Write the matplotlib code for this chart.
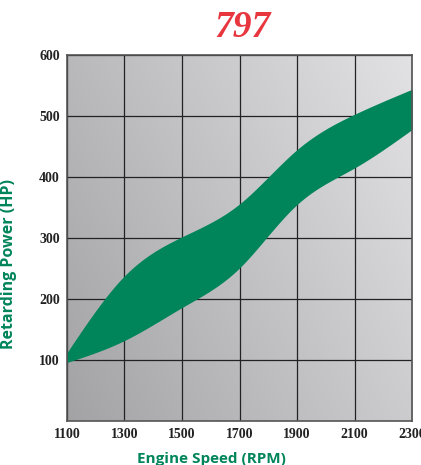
import numpy as np
import matplotlib
matplotlib.use("Agg")
import matplotlib.pyplot as plt

# ── Données ──────────────────────────────────────────────────────────────────
rpm       = [1100, 1300, 1500, 1700, 1800, 1900, 2100, 2300]
hp_upper  = [112, 238, 302, 356, 400, 445, 503, 544]
hp_lower  = [96, 132, 186, 251, 304, 355, 415, 478]

x_ticks   = [1100, 1300, 1500, 1700, 1900, 2100, 2300]
y_ticks   = [100, 200, 300, 400, 500, 600]

GREEN = "#00845a"
RED   = "#e8363f"


def spline(x, y, xs):
    """Spline cubique naturelle (numpy seul)."""
    x = np.asarray(x, float)
    y = np.asarray(y, float)
    n = len(x)
    h = np.diff(x)
    A = np.zeros((n, n))
    b = np.zeros(n)
    A[0, 0] = A[-1, -1] = 1
    for i in range(1, n - 1):
        A[i, i - 1] = h[i - 1]
        A[i, i] = 2 * (h[i - 1] + h[i])
        A[i, i + 1] = h[i]
        b[i] = 3 * ((y[i + 1] - y[i]) / h[i] - (y[i] - y[i - 1]) / h[i - 1])
    c = np.linalg.solve(A, b)
    idx = np.clip(np.searchsorted(x, xs) - 1, 0, n - 2)
    dx = xs - x[idx]
    hi = h[idx]
    bb = (y[idx + 1] - y[idx]) / hi - hi * (2 * c[idx] + c[idx + 1]) / 3
    d = (c[idx + 1] - c[idx]) / (3 * hi)
    return y[idx] + bb * dx + c[idx] * dx ** 2 + d * dx ** 3


# ── Figure ───────────────────────────────────────────────────────────────────
fig = plt.figure(figsize=(4.21, 4.65), dpi=100)
ax = fig.add_axes([0.159, 0.0946, 0.82, 0.787])

# fond dégradé gris (sombre en bas à gauche, clair en haut à droite)
gx, gy = np.meshgrid(np.linspace(0, 1, 200), np.linspace(0, 1, 200))
grad = 0.65 * gx + 0.35 * gy
ax.imshow(grad, extent=[1100, 2300, 0, 600], origin="lower", aspect="auto",
          cmap=matplotlib.colors.LinearSegmentedColormap.from_list("g", ["#a3a3a6", "#e2e2e5"]),
          zorder=0)

# bande verte
xs = np.linspace(1100, 2300, 600)
up = spline(rpm, hp_upper, xs)
lo = spline(rpm, hp_lower, xs)
ax.fill_between(xs, lo, up, color=GREEN, lw=0, zorder=3)

ax.set_xlim(1100, 2300)
ax.set_ylim(0, 600)
ax.set_xticks(x_ticks)
ax.set_yticks(y_ticks)
ax.grid(True, color="#222222", lw=0.9, zorder=2)
ax.set_axisbelow(False)
ax.tick_params(length=0, pad=5)
for lab in ax.get_xticklabels() + ax.get_yticklabels():
    lab.set_family("Liberation Serif")
    lab.set_fontweight("bold")
    lab.set_fontsize(10)
    lab.set_color("#222222")
for s in ax.spines.values():
    s.set_color("#555555")
    s.set_linewidth(1.2)
    s.set_zorder(4)

ax.set_xlabel("Engine Speed (RPM)", family="Open Sans", fontweight="bold",
              fontsize=11, color=GREEN, labelpad=5)
ax.xaxis.set_label_coords(0.42, -0.085)
ax.set_ylabel("Retarding Power (HP)", family="Open Sans", fontweight="bold",
              fontsize=11.5, color=GREEN)
ax.yaxis.set_label_coords(-0.145, 0.43)

fig.text(0.577, 0.94, "797", family="Liberation Serif", fontweight="bold",
         style="italic", fontsize=27, color=RED, ha="center", va="center")

fig.savefig("out.png", dpi=100)
